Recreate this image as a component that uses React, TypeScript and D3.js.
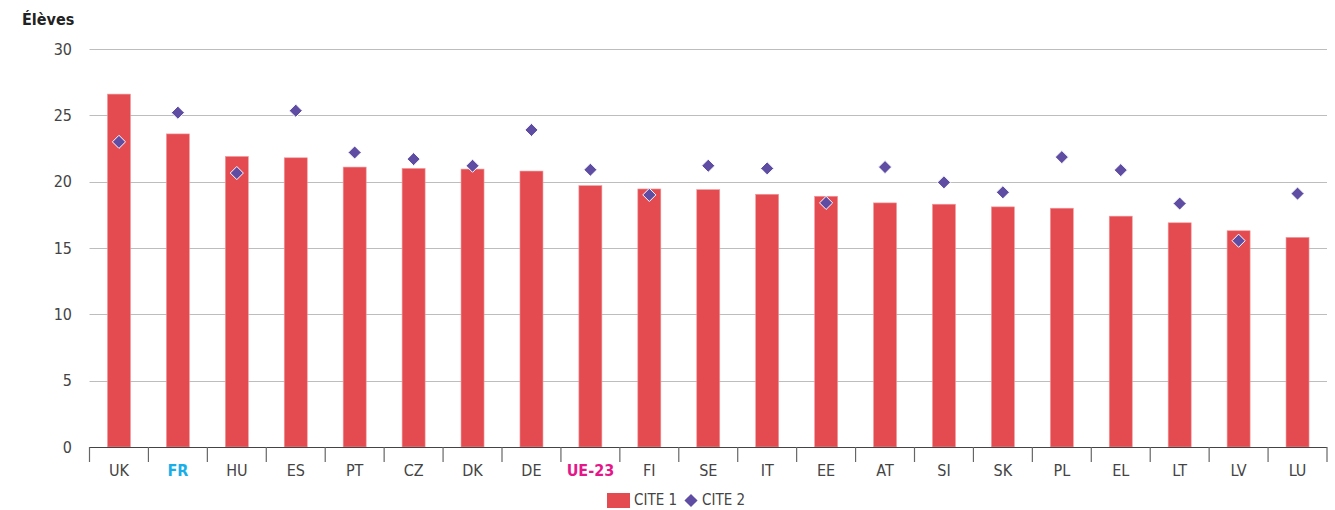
import React from "react";
import * as d3 from "d3";

const categories = ["UK","FR","HU","ES","PT","CZ","DK","DE","UE-23","FI","SE","IT","EE","AT","SI","SK","PL","EL","LT","LV","LU"];
const cite1 = [26.6,23.6,21.9,21.8,21.1,21.0,20.95,20.8,19.7,19.45,19.4,19.05,18.9,18.4,18.3,18.1,18.0,17.4,16.9,16.3,15.8];
const cite2 = [23.0,25.2,20.65,25.35,22.2,21.7,21.2,23.9,20.9,19.0,21.2,21.0,18.4,21.1,19.95,19.2,21.85,20.87,18.35,15.55,19.1];
const yTicks = [0,5,10,15,20,25,30];
const highlight: Record<string,string> = { "FR": "#1aaee8", "UE-23": "#e4178a" };

const W = 1335, H = 510;
const FONT = "'Liberation Sans Narrow', 'DejaVu Sans Condensed', 'Roboto', sans-serif";

export default function App() {
  const left = 89.5, right = 1327, top = 49, bottom = 447;
  const x = d3.scaleBand<string>().domain(categories).range([left, right]).paddingInner(0).paddingOuter(0);
  const y = d3.scaleLinear().domain([0, 30]).range([bottom, top]);
  const bw = 23;
  const red = "#e44b50";
  const purple = "#5f4da3";
  const diamond = d3.symbol().type(d3.symbolDiamond2).size(110)();
  return (
    <svg width={W} height={H} style={{ position: "absolute", left: 0, top: 0, fontFamily: FONT }}>
      <text x={22} y={25} fontSize={16} fontWeight="bold" fill="#222">Élèves</text>
      {yTicks.map(t => (
        <g key={t}>
          {t > 0 && <line x1={left} x2={right} y1={Math.round(y(t)) + 0.5} y2={Math.round(y(t)) + 0.5} stroke="#bdbdbd" strokeWidth={1} />}
          <text x={72} y={y(t)} dy="0.35em" textAnchor="end" fontSize={16} fill="#444">{t}</text>
        </g>
      ))}
      {categories.map((c, i) => {
        const cx = x(c)! + x.bandwidth() / 2;
        return (
          <rect key={c} x={cx - bw / 2} y={y(cite1[i])} width={bw} height={bottom - y(cite1[i])}
            fill={red} stroke="#f39a9c" strokeWidth={0.6} />
        );
      })}
      <line x1={left} x2={right} y1={bottom + 0.5} y2={bottom + 0.5} stroke="#444" strokeWidth={1.2} />
      {categories.concat(["_end"]).map((c, i) => {
        const xx = i < categories.length ? x(c)! : right;
        return <line key={"t" + i} x1={xx} x2={xx} y1={bottom} y2={bottom + 15} stroke="#666" strokeWidth={1.2} />;
      })}
      {categories.map(c => (
        <text key={"l" + c} x={x(c)! + x.bandwidth() / 2} y={470} dy="0.35em" textAnchor="middle" fontSize={16}
          fill={highlight[c] || "#444"} fontWeight={highlight[c] ? "bold" : "normal"}>{c}</text>
      ))}
      {categories.map((c, i) => {
        const cx = x(c)! + x.bandwidth() / 2;
        return <path key={"d" + c} d={diamond!} transform={`translate(${cx},${y(cite2[i])})`} fill={purple} stroke="#fff" strokeWidth={1} />;
      })}
      <g>
        <rect x={607} y={493} width={23} height={15} fill={red} />
        <text x={634} y={500} dy="0.35em" fontSize={15} fill="#444">CITE 1</text>
        <path d={diamond!} transform="translate(691,500.5)" fill={purple} />
        <text x={702} y={500} dy="0.35em" fontSize={15} fill="#444">CITE 2</text>
      </g>
    </svg>
  );
}
